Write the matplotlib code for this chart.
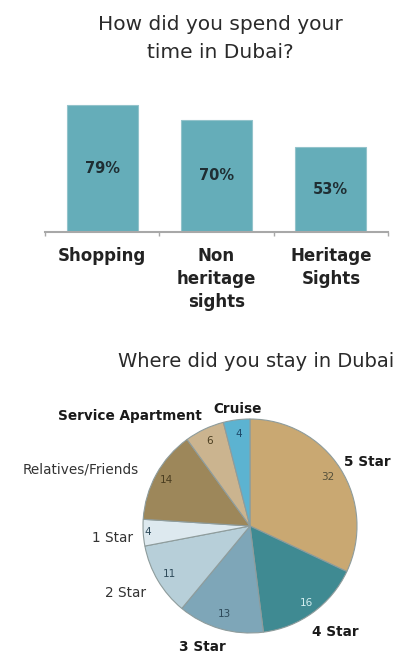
import matplotlib
matplotlib.use("Agg")
import matplotlib.pyplot as plt
import numpy as np

plt.rcParams['font.family'] = ['DejaVu Sans']

# ---- data ----
bar_categories = ["Shopping", "Non\nheritage\nsights", "Heritage\nSights"]
bar_values = [79, 70, 53]
bar_title = "How did you spend your\ntime in Dubai?"

pie_labels = ["5 Star", "4 Star", "3 Star", "2 Star", "1 Star",
              "Relatives/Friends", "Service Apartment", "Cruise"]
pie_values = [32, 16, 13, 11, 4, 14, 6, 4]
pie_title = "Where did you stay in Dubai"

# ---- styles ----
bar_color = "#65adb9"
pie_colors = ["#c9a872", "#3f8a92", "#7ea6b8", "#b7cfd9", "#dde9ef",
              "#9d875a", "#cbb48f", "#5cb3d1"]
pct_colors = ["#55503a", "#d4eff0", "#2e4a5a", "#2e4a5a", "#2e4a5a",
              "#4a3d20", "#4a3d20", "#1e4a6a"]
label_bold = [True, True, True, False, False, False, True, True]
label_dist = [1.25, 1.27, 1.22, 1.32, 1.29, 1.67, 1.52, 1.10]
label_dang = [-3.9, 2.7, -5.3, -2.2, 1.4, 10.2, 22.3, -0.9]
pct_dist = [0.86, 0.89, 0.86, 0.88, 0.96, 0.89, 0.88, 0.87]

W, H = 408, 659
fig = plt.figure(figsize=(W / 100, H / 100), dpi=100)

# ---- bar chart ----
ax = fig.add_axes([45 / W, 1 - 232 / H, (388 - 45) / W, (232 - 95.4) / H])
x = np.arange(len(bar_values))
bars = ax.bar(x, bar_values, width=0.62, color=bar_color,
              edgecolor="#93c3cb", linewidth=0.8, zorder=2)
for xi, v in zip(x, bar_values):
    ax.text(xi, v / 2, f"{v}%", ha="center", va="center",
            fontsize=10.5, fontweight="bold", color="#1f2e33")
ax.set_xlim(-0.5, len(bar_values) - 0.5)
ax.set_ylim(0, 85)
for s in ["top", "right", "left"]:
    ax.spines[s].set_visible(False)
ax.spines["bottom"].set_color("#a8a8a8")
ax.spines["bottom"].set_linewidth(1.5)
ax.set_yticks([])
ax.set_xticks(x)
ax.set_xticklabels(bar_categories, fontsize=12, fontweight="bold",
                   color="#222222", linespacing=1.34)
ax.tick_params(axis="x", which="major", length=0, pad=11)
ax.set_xticks(np.arange(len(bar_values) + 1) - 0.5, minor=True)
ax.tick_params(axis="x", which="minor", length=3, color="#a8a8a8", width=1)
fig.text(220 / W, 1 - 38 / H, bar_title, ha="center", va="center",
         fontsize=14.5, color="#2a2a2a", linespacing=1.6)

# ---- pie chart ----
cx, cy, r = 250, 526, 107
pax = fig.add_axes([0, 0, 1, (H - 340) / H])
wedges, _ = pax.pie(pie_values, colors=pie_colors, startangle=90,
                    counterclock=False,
                    wedgeprops=dict(edgecolor="#8e9c9c", linewidth=0.8))
pax.set_xlim((0 - cx) / r, (W - cx) / r)
pax.set_ylim((cy - H) / r, (cy - 340) / r)

total = sum(pie_values)
cum = np.cumsum([0] + pie_values)
for i, (lab, v) in enumerate(zip(pie_labels, pie_values)):
    mid = 90 - 360 * (cum[i] + v / 2) / total
    a = np.deg2rad(mid)
    pax.text(pct_dist[i] * np.cos(a), pct_dist[i] * np.sin(a), str(v),
             ha="center", va="center", fontsize=7.5, color=pct_colors[i])
    al = np.deg2rad(mid + label_dang[i])
    pax.text(label_dist[i] * np.cos(al), label_dist[i] * np.sin(al), lab,
             ha="center", va="center", fontsize=9.8,
             fontweight="bold" if label_bold[i] else "normal",
             color="#1a1a1a" if label_bold[i] else "#333333")

fig.text(256 / W, 1 - 362 / H, pie_title, ha="center", va="center",
         fontsize=14, color="#2a2a2a")

fig.savefig("out.png", dpi=100)
